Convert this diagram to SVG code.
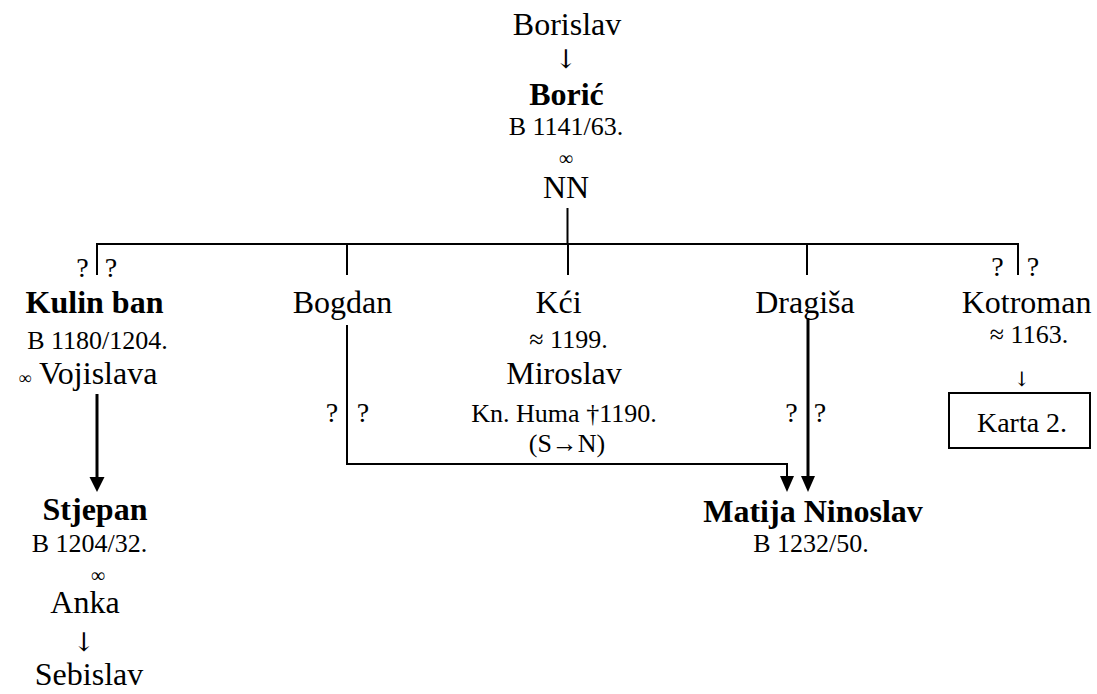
<svg xmlns="http://www.w3.org/2000/svg" width="1097" height="694" viewBox="0 0 1097 694">
<style>
text{fill:#000;text-anchor:middle}
.n{font-size:32px}
.b{font-size:32px;font-weight:bold}
.s{font-size:26px}
.q{font-size:28px}
.inf{font-size:20px}
.ar{font-size:26px;font-family:'DejaVu Serif',serif}
.ln{stroke:#000;stroke-width:2;fill:none}
.th{stroke:#000;stroke-width:3;fill:none}
</style>
<rect width="1097" height="694" fill="#fff"/>
<g id="connectors">
<line class="ln" x1="567.5" y1="208" x2="567.5" y2="244"/>
<line class="ln" x1="96" y1="244" x2="1019" y2="244"/>
<line class="ln" x1="97" y1="243" x2="97" y2="275"/>
<line class="ln" x1="347" y1="244" x2="347" y2="275"/>
<line class="ln" x1="568" y1="244" x2="568" y2="275"/>
<line class="ln" x1="807" y1="244" x2="807" y2="275"/>
<line class="ln" x1="1018" y1="243" x2="1018" y2="275"/>
<line class="th" x1="97" y1="394" x2="97" y2="478"/>
<path d="M89.5,477 L104.5,477 L97,492 Z" fill="#000"/>
<path class="ln" d="M347,325 L347,464 L787,464 L787,477"/>
<path d="M780,476 L794,476 L787,492 Z" fill="#000"/>
<line class="th" x1="808" y1="318" x2="808" y2="477"/>
<path d="M801,476 L815,476 L808,492 Z" fill="#000"/>
</g>
<g font-family="'Liberation Serif', Tinos, 'Times New Roman', 'DejaVu Serif', serif">
<g id="borislav"><text class="n" x="567" y="35">Borislav</text><text class="ar" x="566" y="68">↓</text></g>
<g id="boric">
<text class="b" x="566.5" y="105">Borić</text>
<text class="s" x="566" y="135">B 1141/63.</text>
<text class="inf" x="566" y="165">∞</text>
<text class="n" x="566" y="198">NN</text>
</g>
<g id="kulin">
<text class="q" x="82.5" y="277">?</text><text class="q" x="111" y="277">?</text>
<text class="b" x="94.5" y="313">Kulin ban</text>
<text class="s" x="97.5" y="349">B 1180/1204.</text>
<text class="n" x="88" y="384"><tspan style="font-size:18px">∞</tspan> Vojislava</text>
</g>
<g id="bogdan">
<text class="n" x="342.5" y="313">Bogdan</text>
<text class="q" x="332" y="422">?</text><text class="q" x="363" y="422">?</text>
</g>
<g id="kci">
<text class="n" x="558.5" y="313">Kći</text>
<text class="s" x="568.5" y="348">≈ 1199.</text>
<text class="n" x="564" y="384">Miroslav</text>
<text class="s" x="564" y="422">Kn. Huma †1190.</text>
<text class="s" x="567" y="452">(S→N)</text>
</g>
<g id="dragisa">
<text class="n" x="805" y="313">Dragiša</text>
<text class="q" x="791.5" y="422">?</text><text class="q" x="820" y="422">?</text>
</g>
<g id="kotroman">
<text class="q" x="997.5" y="276">?</text><text class="q" x="1033" y="276">?</text>
<text class="n" x="1026.5" y="313">Kotroman</text>
<text class="s" x="1029" y="343">≈ 1163.</text>
<text class="ar" x="1022" y="386" style="font-size:20px">↓</text>
</g>
<g id="karta2">
<rect x="949" y="393" width="141" height="55" fill="none" stroke="#000" stroke-width="2"/>
<text style="font-size:28px" x="1022" y="432">Karta 2.</text>
</g>
<g id="stjepan">
<text class="b" x="95" y="520">Stjepan</text>
<text class="s" x="89.5" y="552">B 1204/32.</text>
<text class="inf" x="98" y="582">∞</text>
<text class="n" x="85" y="613">Anka</text>
<text class="ar" x="84" y="651">↓</text>
<text class="n" x="89" y="685">Sebislav</text>
</g>
<g id="matija">
<text class="b" x="813" y="522">Matija Ninoslav</text>
<text class="s" x="811" y="552">B 1232/50.</text>
</g>
</g>
</svg>
